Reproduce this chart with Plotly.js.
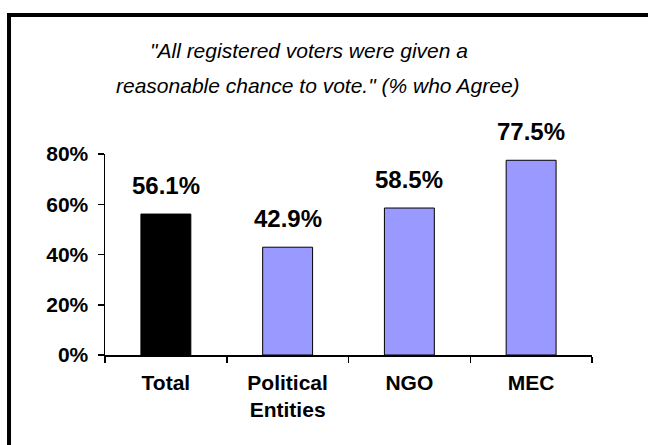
<!DOCTYPE html>
<html>
<head>
<meta charset="utf-8">
<script src="https://cdn.plot.ly/plotly-3.0.1.min.js"></script>
<style>html,body{margin:0;padding:0;background:#fff;}#chart{width:648px;height:445px;}</style>
</head>
<body>
<div id="chart"></div>
<script>
const categories = ["Total", "Political<br>Entities", "NGO", "MEC"];
const values = [0.561, 0.429, 0.585, 0.775];
const valueLabels = ["56.1%", "42.9%", "58.5%", "77.5%"];
const barColors = ["#000000", "#9999FF", "#9999FF", "#9999FF"];
const yTicks = [0, 0.2, 0.4, 0.6, 0.8];
const yTickLabels = ["0%", "20%", "40%", "60%", "80%"];
const titleLines = ["\"All registered voters were given a", "reasonable chance to vote.\" (% who Agree)"];

const font = "Liberation Sans, Arial, sans-serif";

const trace = {
  type: "bar",
  x: categories,
  y: values,
  width: 0.41,
  marker: {color: barColors, line: {color: "#000", width: 1}},
  hoverinfo: "skip"
};

const annotations = categories.map((c, i) => ({
  x: c, y: values[i], xref: "x", yref: "y",
  text: "<b>" + valueLabels[i] + "</b>",
  showarrow: false, xanchor: "center", yanchor: "bottom", yshift: 13,
  font: {family: font, size: 24, color: "#000"}
}));
annotations.push({
  xref: "paper", yref: "paper", x: 0.419, y: 1.517,
  xanchor: "center", yanchor: "middle",
  text: "<i>" + titleLines[0] + "</i>", showarrow: false,
  font: {family: font, size: 21, color: "#000"}
});
annotations.push({
  xref: "paper", yref: "paper", x: 0.437, y: 1.343,
  xanchor: "center", yanchor: "middle",
  text: "<i>" + titleLines[1] + "</i>", showarrow: false,
  font: {family: font, size: 21, color: "#000"}
});

const layout = {
  width: 648, height: 445,
  margin: {l: 105, r: 56, t: 154, b: 90},
  paper_bgcolor: "#fff", plot_bgcolor: "#fff",
  showlegend: false,
  xaxis: {
    type: "category",
    tickson: "boundaries",
    ticks: "outside", ticklen: 6, tickwidth: 1.5, tickcolor: "#000",
    ticklabelstandoff: 8,
    showline: true, linecolor: "#000", linewidth: 1.5,
    showgrid: false, zeroline: false,
    tickfont: {family: font, size: 21, color: "#000", weight: "bold"},
    fixedrange: true
  },
  yaxis: {
    range: [0, 0.8],
    tickvals: yTicks, ticktext: yTickLabels,
    ticks: "outside", ticklen: 6, tickwidth: 1.5, tickcolor: "#000",
    ticklabelstandoff: 5,
    showline: true, linecolor: "#000", linewidth: 1.5,
    showgrid: false, zeroline: false,
    tickfont: {family: font, size: 21, color: "#000", weight: "bold"},
    fixedrange: true
  },
  annotations: annotations,
  shapes: [
    {type: "line", xref: "paper", yref: "paper", x0: -0.1971, x1: -0.1971, y0: -0.6, y1: 1.7015, line: {color: "#000", width: 4}},
    {type: "line", xref: "paper", yref: "paper", x0: -0.2012, x1: 1.3, y0: 1.6915, y1: 1.6915, line: {color: "#000", width: 4}}
  ]
};

Plotly.newPlot("chart", [trace], layout, {displayModeBar: false, staticPlot: true});
</script>
</body>
</html>
